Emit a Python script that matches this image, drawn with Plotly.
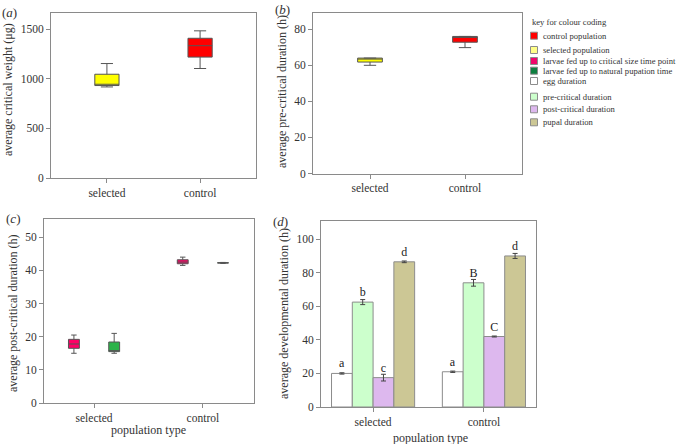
import plotly.graph_objects as go

W, H = 682, 444

# ---------------- data ----------------
populations = ["selected", "control"]

# (a) average critical weight (ug): box stats per population
cw_low = [919, 1105]
cw_q1 = [933, 1220]
cw_med = [946, 1335]
cw_q3 = [1047, 1410]
cw_high = [1155, 1485]

# (b) average pre-critical duration (h)
pre_low = [60.0, 69.8]
pre_q1 = [61.8, 72.8]
pre_med = [63.8, 75.5]
pre_q3 = [64.0, 76.0]
pre_high = [64.0, 76.0]

# (c) average post-critical duration (h): [selected, control]
crit_low = [15.0, 41.5]
crit_q1 = [16.5, 42.0]
crit_med = [17.8, 42.5]
crit_q3 = [19.2, 43.2]
crit_high = [20.5, 44.0]

nat_low = [15.0, 42.1]
nat_q1 = [15.5, 42.2]
nat_med = [15.8, 42.3]
nat_q3 = [18.4, 42.3]
nat_high = [21.0, 42.4]

# (d) average developmental duration (h)
stages = ["egg duration", "pre-critical duration", "post-critical duration", "pupal duration"]
dev_mean = {
    "egg duration": [20.0, 21.0],
    "pre-critical duration": [62.5, 74.0],
    "post-critical duration": [17.5, 42.0],
    "pupal duration": [86.5, 90.0],
}
dev_err = {
    "egg duration": [0.4, 0.4],
    "pre-critical duration": [1.5, 2.0],
    "post-critical duration": [2.0, 0.3],
    "pupal duration": [0.5, 1.5],
}
dev_letters = {
    "egg duration": ["a", "a"],
    "pre-critical duration": ["b", "B"],
    "post-critical duration": ["c", "C"],
    "pupal duration": ["d", "d"],
}

legend_labels = ["control population", "selected population",
                 "larvae fed up to critical size time point",
                 "larvae fed up to natural pupation time",
                 "egg duration", "pre-critical duration",
                 "post-critical duration", "pupal duration"]

# ---------------- styles ----------------
FONT = "Liberation Serif"
AX = "#8a8a8a"
TXT = "#333333"
pop_colors = {"selected": "#FFFF00", "control": "#FF0000"}
crit_color = "#FF0066"
nat_color = "#2DB34A"
stage_colors = {"egg duration": "#FFFFFF", "pre-critical duration": "#CCFFCC",
                "post-critical duration": "#DDB8EE", "pupal duration": "#CCC795"}
legend_colors = ["#FF0000", "#FFFF88", "#F0066A", "#0E7F40", "#FFFFFF",
                 "#CCFFCC", "#DDB8EE", "#CCC795"]
legend_y_px = [35.7, 50, 61, 70.7, 81, 96.7, 109.3, 122.3]


def px_x(p):
    return p / W


def px_y(p):
    return 1 - p / H


fig = go.Figure()

idx = list(range(len(populations)))

# (a)
for i, pop in enumerate(populations):
    fig.add_trace(go.Box(
        x=[i], q1=[cw_q1[i]], median=[cw_med[i]], q3=[cw_q3[i]],
        lowerfence=[cw_low[i]], upperfence=[cw_high[i]],
        fillcolor=pop_colors[pop], line=dict(color="#555555", width=1),
        width=0.26, whiskerwidth=0.5, xaxis="x", yaxis="y", showlegend=False,
        hoverinfo="skip"))

# (b)
for i, pop in enumerate(populations):
    fig.add_trace(go.Box(
        x=[i], q1=[pre_q1[i]], median=[pre_med[i]], q3=[pre_q3[i]],
        lowerfence=[pre_low[i]], upperfence=[pre_high[i]],
        fillcolor=pop_colors[pop], line=dict(color="#555555", width=1),
        width=0.26, whiskerwidth=0.5, xaxis="x2", yaxis="y2", showlegend=False,
        hoverinfo="skip"))

# (c)
OFF = 0.185
fig.add_trace(go.Box(
    x=[i - OFF for i in idx], q1=crit_q1, median=crit_med, q3=crit_q3,
    lowerfence=crit_low, upperfence=crit_high,
    fillcolor=crit_color, line=dict(color="#555555", width=1),
    width=0.1, whiskerwidth=0.5, xaxis="x3", yaxis="y3", showlegend=False,
    hoverinfo="skip"))
fig.add_trace(go.Box(
    x=[i + OFF for i in idx], q1=nat_q1, median=nat_med, q3=nat_q3,
    lowerfence=nat_low, upperfence=nat_high,
    fillcolor=nat_color, line=dict(color="#555555", width=1),
    width=0.1, whiskerwidth=0.5, xaxis="x3", yaxis="y3", showlegend=False,
    hoverinfo="skip"))

# (d)
for st in stages:
    fig.add_trace(go.Bar(
        x=populations, y=dev_mean[st], name=st,
        marker=dict(color=stage_colors[st], line=dict(color="#8c8c8c", width=1)),
        error_y=dict(type="data", array=dev_err[st], color="#444444",
                     thickness=1, width=2.5),
        text=dev_letters[st], textposition="outside", cliponaxis=False,
        textfont=dict(family=FONT, size=12, color="#222222"),
        xaxis="x4", yaxis="y4", showlegend=False, hoverinfo="skip"))

axis_common = dict(showline=True, linecolor=AX, linewidth=1, mirror=True,
                   ticks="outside", ticklen=4, tickcolor=AX, showgrid=False,
                   zeroline=False, automargin=False,
                   tickfont=dict(family=FONT, size=11.5, color=TXT))

fig.update_layout(
    width=W, height=H, margin=dict(l=0, r=0, t=0, b=0),
    paper_bgcolor="white", plot_bgcolor="white",
    barmode="group", bargap=0.25, bargroupgap=0,
    font=dict(family=FONT, color=TXT),
    xaxis=dict(domain=[px_x(51), px_x(256)], range=[-0.6, 1.6], tickvals=idx,
               ticktext=populations, anchor="y", **axis_common),
    yaxis=dict(domain=[px_y(178), px_y(13)], range=[0, 1665],
               tickvals=[0, 500, 1000, 1500], anchor="x", **axis_common),
    xaxis2=dict(domain=[px_x(313), px_x(522)], range=[-0.6, 1.6], tickvals=idx,
                ticktext=populations, anchor="y2", **axis_common),
    yaxis2=dict(domain=[px_y(173.5), px_y(13)], range=[0, 89],
                tickvals=[0, 20, 40, 60, 80], anchor="x2", **axis_common),
    xaxis3=dict(domain=[px_x(44), px_x(254)], range=[-0.46, 1.47], tickvals=idx,
                ticktext=populations, anchor="y3", **axis_common),
    yaxis3=dict(domain=[px_y(403), px_y(219)], range=[0, 55.5],
                tickvals=[0, 10, 20, 30, 40, 50], anchor="x3", **axis_common),
    xaxis4=dict(domain=[px_x(321), px_x(536)], range=[-0.47, 1.47],
                type="category", anchor="y4", **axis_common),
    yaxis4=dict(domain=[px_y(407), px_y(220.7)], range=[0, 111],
                tickvals=[0, 20, 40, 60, 80, 100], anchor="x4", **axis_common),
)

ann = []


def text_at(x, y, s, size=12, angle=0, xanchor="center"):
    ann.append(dict(x=px_x(x), y=px_y(y), xref="paper", yref="paper", text=s,
                    showarrow=False, textangle=angle, xanchor=xanchor,
                    yanchor="middle", font=dict(family=FONT, size=size, color=TXT)))


# panel labels
text_at(9, 12.5, "(<i>a</i>)", 13)
text_at(282, 9, "(<i>b</i>)", 13)
text_at(12.5, 219, "(<i>c</i>)", 13)
text_at(280, 221, "(<i>d</i>)", 13)

# axis titles
text_at(8, 90, "average critical weight (μg)", 12, -90)
text_at(282, 92, "average pre-critical duration (h)", 12, -90)
text_at(13, 313, "average post-critical duration (h)", 12, -90)
text_at(284, 314, "average developmental duration (h)", 12, -90)
text_at(148, 430, "population type", 12)
text_at(430, 437.5, "population type", 12)

# colour key
text_at(530, 22.3, "key for colour coding", 8.6, 0, "left")
shapes = []
for lab, col, yp in zip(legend_labels, legend_colors, legend_y_px):
    shapes.append(dict(type="rect", xref="paper", yref="paper",
                       x0=px_x(530.5), x1=px_x(537.5),
                       y0=px_y(yp + 3.5), y1=px_y(yp - 3.5),
                       fillcolor=col, line=dict(color="#8c8c8c", width=1)))
    text_at(540.5, yp, lab, 8.6, 0, "left")

fig.update_layout(annotations=ann, shapes=shapes)

fig.write_html("out.html", config={"displayModeBar": False},
               post_script="document.body.style.margin='0px';document.body.style.overflow='hidden';")
